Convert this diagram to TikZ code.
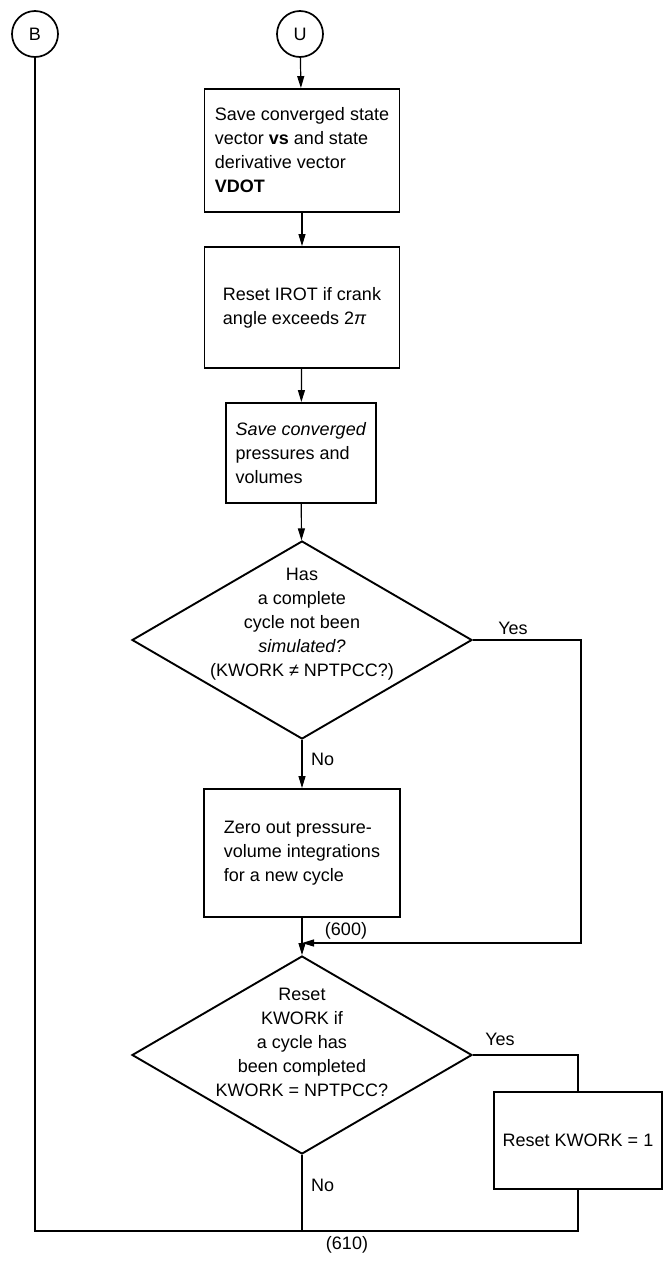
\documentclass[tikz,border=0pt]{standalone}
\usepackage{fontspec}
\setmainfont{Liberation Sans}
\usetikzlibrary{shapes.geometric,arrows.meta,calc}

\begin{document}
\begin{tikzpicture}[x=1pt,y=-1pt,
  font=\fontsize{18}{24}\selectfont,
  box/.style={draw,line width=1.9pt,inner sep=0pt,align=left},
  decision/.style={draw,diamond,line width=1.9pt,inner sep=0pt,
    minimum width=340pt,minimum height=198pt},
  conn/.style={draw,line width=1.2pt,-{Triangle[length=12pt,width=7pt]}},
  wire/.style={draw,line width=1.2pt},
  term/.style={draw,circle,line width=1.7pt,minimum size=46pt,inner sep=0pt},
  tag/.style={inner sep=0pt}]
\useasboundingbox (0,0) rectangle (663,1267);

% connectors (terminals)
\node[term] (B) at (35,34) {B};
\node[term] (U) at (300,34) {U};

% process boxes
\node[box,minimum width=195pt,minimum height=123pt] (b1) at (302,150.5)
  {Save converged state\\vector \textbf{vs} and state\\derivative vector\\\textbf{VDOT}};
\node[box,minimum width=195pt,minimum height=121pt] (b2) at (302,307.5)
  {Reset IROT if crank\\angle exceeds 2\textit{π}};
\node[box,minimum width=150pt,minimum height=100pt] (b3) at (301,453)
  {\textit{Save converged}\\pressures and\\volumes};

% first decision
\node[decision] (d1) at (302,640) {};
\node[tag,align=center] (d1t) at (302,624)
  {Has\\a complete\\cycle not been\\\textit{simulated?}\\(KWORK ≠ NPTPCC?)};

\node[box,minimum width=196pt,minimum height=128pt] (b4) at (302,853)
  {Zero out pressure-\\volume integrations\\for a new cycle};

% second decision
\node[decision] (d2) at (302,1055) {};
\node[tag,align=center] (d2t) at (302,1042)
  {Reset\\KWORK if\\a cycle has\\been completed\\KWORK = NPTPCC?};

\node[box,minimum width=168pt,minimum height=97pt,align=center] (b5) at (578,1140.5)
  {Reset KWORK = 1};

% junction points
\coordinate (j600) at (302,943);
\coordinate (yes1) at (581,943);
\coordinate (j610) at (302,1231);
\coordinate (bl) at (35,1231);

% flow
\draw[conn] (U) -- (b1);
\draw[conn] (b1) -- (b2);
\draw[conn] (b2) -- (b3);
\draw[conn] (b3) -- (d1);
\draw[conn] (d1) -- (b4);
\draw[conn] (d1.east) -| (yes1) -- (j600);
\draw[conn] (b4) -- (d2);
\draw[wire] (d2.east) -| (b5.north);
\draw[wire] (d2.south) -- (j610);
\draw[wire] (b5.south) |- (bl) -- (B.south);

% labels
\node[tag] (l1) at (513,628) {Yes};
\node[tag,anchor=west] (l2) at (311,759) {No};
\node[tag] (l3) at (346,931) {(600)};
\node[tag] (l4) at (500,1039) {Yes};
\node[tag,anchor=west] (l5) at (311,1185) {No};
\node[tag] (l6) at (347,1245) {(610)};
\end{tikzpicture}
\end{document}
